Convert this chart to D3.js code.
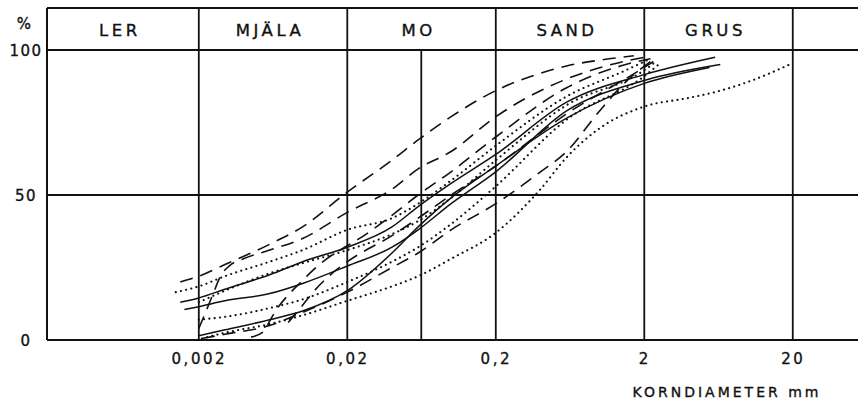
<!DOCTYPE html>
<html>
<head>
<meta charset="utf-8">
<script src="https://cdn.jsdelivr.net/npm/d3@7"></script>
<style>
  body { margin: 0; background: #fff; }
  text { font-family: "DejaVu Sans", "Liberation Sans", sans-serif; fill: #111; stroke: #111; stroke-width: 0.35; }
</style>
</head>
<body>
<svg id="chart" width="858" height="407"></svg>
<script>
// Grain-size classes (mm) and their names
const classNames  = ["LER", "MJÄLA", "MO", "SAND", "GRUS"];
const classBounds = [0.00019, 0.002, 0.02, 0.2, 2, 20, 55];
const moSplit     = [0.063];            // fine / coarse mo boundary, plot area only
const xTickValues = [0.002, 0.02, 0.2, 2, 20];
const xTickLabels = ["0,002", "0,02", "0,2", "2", "20"];
const yTickValues = [0, 50, 100];
const yTickLabels = ["0", "50", "100"];

// Grading curves: [grain size mm, percent finer]
const solidA = [[0.0015,13],[0.002,14.5],[0.003,17.5],[0.006,22.5],[0.01,27],[0.02,32],[0.04,39],[0.06,46],[0.1,54],[0.2,64],[0.6,82],[2,91.5],[6,97.5]];
const solidB = [[0.0016,10.5],[0.002,11.5],[0.003,13.5],[0.006,16],[0.01,19.5],[0.02,25.5],[0.04,32],[0.06,38],[0.1,47],[0.2,58],[0.6,79],[2,89.5],[6.5,95]];
const solidC = [[0.002,1.5],[0.003,3.5],[0.006,7],[0.01,10],[0.02,17],[0.04,30],[0.06,39],[0.1,49],[0.2,60],[0.6,76.5],[2,88.5],[5.5,94]];

const dashA = [[0.0015,20],[0.002,22],[0.003,26],[0.006,33],[0.01,39],[0.02,51],[0.04,62],[0.06,69],[0.1,77],[0.2,86],[0.4,92],[0.6,94.5],[1,96.5],[1.7,98]];
const dashB = [[0.002,4],[0.0022,9],[0.0025,16],[0.0028,22],[0.0032,25.5],[0.004,28],[0.006,31],[0.01,35],[0.02,44],[0.04,52],[0.06,59],[0.1,65],[0.2,77],[0.6,90],[1.2,95],[2,97.5]];
const dashC = [[0.0045,1],[0.0055,3],[0.006,6.5],[0.007,12],[0.008,15.5],[0.01,20.5],[0.012,24.5],[0.015,28.5],[0.02,32.5],[0.025,35.5],[0.04,43],[0.06,50],[0.1,58],[0.2,70],[0.6,87],[1.5,95],[2.2,97]];
const dashD = [[0.008,6],[0.01,12],[0.012,17],[0.015,22],[0.02,27],[0.04,36],[0.06,42],[0.1,50],[0.2,60],[0.6,78],[2,94],[2.3,96]];
const dashE = [[0.0021,0.5],[0.003,2],[0.006,5],[0.01,9.5],[0.02,16.5],[0.04,25],[0.06,30],[0.1,38],[0.2,47],[0.4,58],[0.6,65],[1,79],[1.5,89],[2.2,96]];

const dotA = [[0.0014,16.5],[0.002,18.5],[0.003,22],[0.006,27],[0.01,31],[0.02,38],[0.04,42],[0.06,47],[0.1,55],[0.2,67],[0.6,84],[1.5,93],[2.2,97]];
const dotB = [[0.002,13],[0.003,17],[0.006,23],[0.01,26.5],[0.02,31],[0.04,36.5],[0.06,41],[0.1,49],[0.2,62],[0.6,81],[2,93],[2.4,96]];
const dotC = [[0.002,7],[0.003,8],[0.006,11],[0.01,14],[0.02,20],[0.04,27],[0.06,32],[0.1,40],[0.2,53],[0.6,76],[2,91],[2.5,95]];
const dotD = [[0.0021,0.5],[0.003,2.5],[0.006,5.5],[0.01,8.5],[0.02,13.5],[0.04,18.5],[0.06,22],[0.1,28],[0.2,37],[0.4,52],[0.6,63],[1,73],[2,80.5],[4,83.5],[6,85.5],[10,89],[20,95.5]];

const svg = d3.select("#chart");

const x = d3.scaleLog().domain([classBounds[0], classBounds[classBounds.length - 1]]).range([47, 858]);
const y = d3.scaleLinear().domain([0, 100]).range([340, 50]);
const yTop = 8;
const x0 = x.range()[0], x1 = x.range()[1];

// Frame and grid
const frame = svg.append("g").attr("stroke", "#111").attr("fill", "none");
frame.append("line").attr("x1", x0).attr("x2", x1).attr("y1", yTop).attr("y2", yTop).attr("stroke-width", 2);
frame.append("line").attr("x1", x0).attr("x2", x0).attr("y1", yTop).attr("y2", y(0)).attr("stroke-width", 2);
yTickValues.forEach(v => {
  frame.append("line").attr("x1", x0).attr("x2", x1).attr("y1", y(v)).attr("y2", y(v))
    .attr("stroke-width", 2);
});
classBounds.slice(1, -1).forEach(b => {
  frame.append("line").attr("x1", x(b)).attr("x2", x(b)).attr("y1", yTop).attr("y2", y(0))
    .attr("stroke-width", 1.8);
});
moSplit.forEach(b => {
  frame.append("line").attr("x1", x(b)).attr("x2", x(b)).attr("y1", y(100)).attr("y2", y(0))
    .attr("stroke-width", 1.8);
});

// Class names in the header band
classNames.forEach((name, i) => {
  const c = Math.sqrt(classBounds[i] * classBounds[i + 1]);
  svg.append("text")
    .attr("x", x(c) - 3).attr("y", (yTop + y(100)) / 2 + 1)
    .attr("text-anchor", "middle").attr("dominant-baseline", "central")
    .attr("font-size", 16.5).attr("letter-spacing", 3.5)
    .text(name);
});

// Axes (labels only; the grid above carries the lines)
const xAxis = svg.append("g").attr("transform", `translate(0,${y(0)})`)
  .call(d3.axisBottom(x).tickValues(xTickValues).tickFormat((d, i) => xTickLabels[i]).tickSize(0));
xAxis.select(".domain").remove();
xAxis.attr("font-family", null).attr("font-size", null);
xAxis.selectAll("text").attr("y", 19).attr("dy", "0.35em")
  .attr("font-size", 15).attr("letter-spacing", 2.5).attr("fill", "#111");

const yAxis = svg.append("g").attr("transform", `translate(${x0},0)`)
  .call(d3.axisLeft(y).tickValues(yTickValues).tickFormat((d, i) => yTickLabels[i]).tickSize(0));
yAxis.select(".domain").remove();
yAxis.attr("font-family", null).attr("font-size", null);
yAxis.selectAll("text").attr("x", -21).attr("dy", "0.35em").attr("text-anchor", "middle")
  .attr("font-size", 15).attr("letter-spacing", 1.5).attr("fill", "#111");

svg.append("text").attr("x", 24).attr("y", 24).attr("text-anchor", "middle")
  .attr("dominant-baseline", "central").attr("font-size", 15).text("%");

svg.append("text").attr("x", 727).attr("y", 392).attr("text-anchor", "middle")
  .attr("dominant-baseline", "central").attr("font-size", 14).attr("letter-spacing", 3)
  .text("KORNDIAMETER mm");

// Grading curves
const line = d3.line().x(d => x(d[0])).y(d => y(d[1])).curve(d3.curveMonotoneX);
const styles = {
  solid:  { dash: null,      width: 1.5, cap: "butt" },
  dashed: { dash: "13,8",    width: 1.6, cap: "butt" },
  dotted: { dash: "0.1,5.2", width: 2.1, cap: "round" }
};
const curves = [
  [solidA, "solid"], [solidB, "solid"], [solidC, "solid"],
  [dashA, "dashed"], [dashB, "dashed"], [dashC, "dashed"], [dashD, "dashed"], [dashE, "dashed"],
  [dotA, "dotted"], [dotB, "dotted"], [dotC, "dotted"], [dotD, "dotted"]
];
svg.append("g").selectAll("path").data(curves).join("path")
  .attr("d", d => line(d[0]))
  .attr("fill", "none").attr("stroke", "#111")
  .attr("stroke-width", d => styles[d[1]].width)
  .attr("stroke-linecap", d => styles[d[1]].cap)
  .attr("stroke-dasharray", d => styles[d[1]].dash);
</script>
</body>
</html>
